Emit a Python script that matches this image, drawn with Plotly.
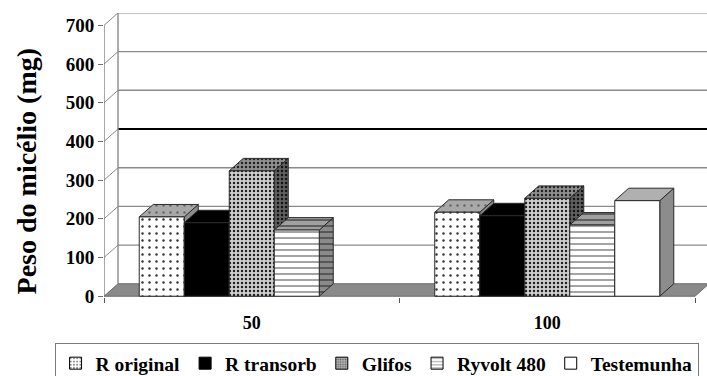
import plotly.graph_objects as go

# ---- data -------------------------------------------------------------
categories = ["50", "100"]
series_names = ["R original", "R transorb", "Glifos", "Ryvolt 480", "Testemunha"]
r_original = [205, 217]
r_transorb = [190, 208]
glifos = [324, 253]
ryvolt_480 = [171, 184]
testemunha = [None, 247]
y_ticks = [0, 100, 200, 300, 400, 500, 600, 700]

series_values = [r_original, r_transorb, glifos, ryvolt_480, testemunha]

# ---- geometry of the pseudo-3D columns ---------------------------------
DX = 0.0474      # depth shift to the right (x units)
DY = 32.2        # depth shift upwards (y units)
BAR_W = 0.1523   # column width (x units)
X_MIN, X_MAX = -0.5, 1.5406
Y_MIN, Y_MAX = -2, 732

FONT = "Liberation Serif"
EDGE = "#2a2a2a"
GRID = "#8a8a8a"


def pat(shape, fg, bg, size=6, solidity=0.2):
    return dict(shape=shape, fgcolor=fg, bgcolor=bg, fillmode="replace",
                size=size, solidity=solidity)


# (front, top, side) fill patterns for each series
styles = [
    (pat(".", "#333", "#ffffff", 7, 0.1), pat(".", "#666", "#a8a8a8", 7, 0.1), pat("", "#8c8c8c", "#8c8c8c")),
    (pat("", "#000", "#000"), pat("", "#000", "#000"), pat("", "#000", "#000")),
    (pat(".", "#222", "#cfcfcf", 4, 0.3), pat(".", "#222", "#909090", 4, 0.3), pat(".", "#111", "#606060", 4, 0.3)),
    (pat("-", "#555", "#ffffff", 6, 0.18), pat("-", "#333", "#a0a0a0", 6, 0.2), pat("-", "#333", "#8a8a8a", 6, 0.2)),
    (pat("", "#fff", "#fff"), pat("", "#b0b0b0", "#b0b0b0"), pat("", "#8c8c8c", "#8c8c8c")),
]
legend_patterns = [
    dict(shape=".", fgcolor="#000", bgcolor="#fff", size=4, solidity=0.25),
    dict(shape="", fgcolor="#000", bgcolor="#000"),
    dict(shape=".", fgcolor="#000", bgcolor="#bbbbbb", size=3, solidity=0.4),
    dict(shape="-", fgcolor="#000", bgcolor="#fff", size=4, solidity=0.25),
    dict(shape="", fgcolor="#fff", bgcolor="#fff"),
]

fig = go.Figure()


def poly(xs, ys, fillpattern, line_color=EDGE, width=1):
    fig.add_trace(go.Scatter(
        x=xs + [xs[0]], y=ys + [ys[0]], mode="lines", fill="toself",
        fillcolor=fillpattern["bgcolor"], fillpattern=fillpattern,
        line=dict(color=line_color, width=width),
        hoverinfo="skip", showlegend=False))


def line(xs, ys, color=GRID, width=1.3):
    fig.add_trace(go.Scatter(
        x=xs, y=ys, mode="lines", line=dict(color=color, width=width),
        hoverinfo="skip", showlegend=False))


# back wall gridlines and left-wall tick diagonals
for v in y_ticks[1:]:
    color, width = ("#000000", 2.2) if v == 400 else (GRID, 1.4)
    line([-0.5, -0.5 + DX], [v, v + DY], GRID, 1.0)
    line([-0.5 + DX, X_MAX], [v + DY, v + DY], color, width)

# left wall: back edge and front axis
line([-0.5 + DX, -0.5 + DX], [DY, y_ticks[-1] + DY], GRID, 1.4)
line([-0.5, -0.5], [0, y_ticks[-1]], "#6e6e6e", 1.2)

# floor
n_cat = len(categories)
poly([-0.5, n_cat - 0.5, n_cat - 0.5 + DX, -0.5 + DX], [0, 0, DY, DY],
     pat("", "#8a8a8a", "#8a8a8a"), "#6a6a6a", 1)

# columns: side, top, front for each column from left to right
n_ser = len(series_values)
for c in range(n_cat):
    for s in range(n_ser):
        h = series_values[s][c]
        if h is None:
            continue
        x0 = c + (s - n_ser / 2) * BAR_W
        x1 = x0 + BAR_W
        front, top, side = styles[s]
        poly([x1, x1 + DX, x1 + DX, x1], [0, DY, h + DY, h], side)
        poly([x0, x1, x1 + DX, x0 + DX], [h, h, h + DY, h + DY], top)
        poly([x0, x1, x1, x0], [0, 0, h, h], front)

# legend entries
for name, lp in zip(series_names, legend_patterns):
    fig.add_trace(go.Bar(
        x=[None], y=[None], name="<b>%s</b>" % name,
        marker=dict(color=lp["bgcolor"], pattern=lp,
                    line=dict(color="#000", width=1))))

fig.add_annotation(
    text="<b>Peso do micélio (mg)</b>", textangle=-90, showarrow=False,
    xref="paper", yref="paper", x=-0.128, y=0.445,
    xanchor="center", yanchor="middle",
    font=dict(family=FONT, size=28, color="#000"))

fig.update_layout(
    width=707, height=376,
    margin=dict(l=104, r=0, t=13, b=79, autoexpand=False),
    paper_bgcolor="#fff", plot_bgcolor="#fff",
    showlegend=True,
    legend=dict(
        orientation="h", x=-0.082, xanchor="left", y=-0.162, yanchor="top",
        bordercolor="#7a7a7a", borderwidth=1, bgcolor="#fff",
        font=dict(family=FONT, size=19.5, color="#000"),
        itemwidth=30, traceorder="normal"),
    xaxis=dict(
        range=[X_MIN, X_MAX], showgrid=False, zeroline=False, showline=False,
        tickvals=list(range(n_cat)), ticktext=["<b>%s</b>" % t for t in categories],
        ticks="", ticklabelstandoff=13,
        tickfont=dict(family=FONT, size=18, color="#000"),
        minor=dict(tickvals=[i - 0.5 for i in range(n_cat + 1)],
                   ticks="outside", ticklen=5, tickcolor="#555", tickwidth=1.2),
        fixedrange=True),
    yaxis=dict(
        range=[Y_MIN, Y_MAX], showgrid=False, zeroline=False, showline=False,
        tickvals=y_ticks, ticktext=["<b>%d</b>" % v for v in y_ticks],
        ticks="outside", ticklen=5, tickcolor="#6e6e6e",
        tickfont=dict(family=FONT, size=19, color="#000"),
        fixedrange=True),
)

fig.write_html("out.html")
